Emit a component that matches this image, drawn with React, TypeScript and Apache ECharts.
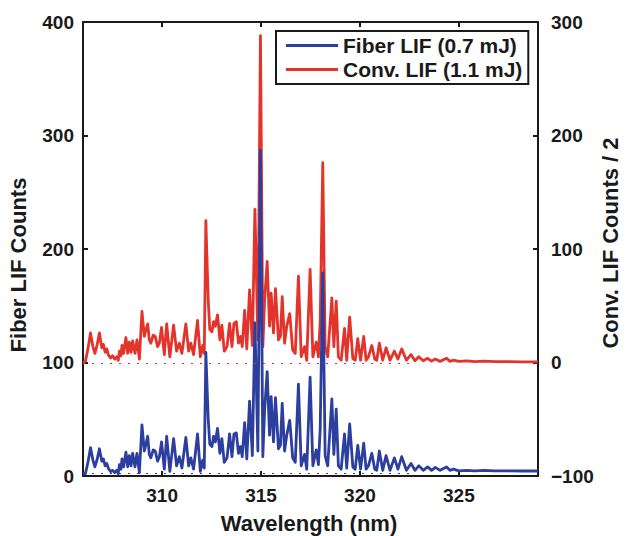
import React, { useEffect, useRef } from "react";
import * as echarts from "echarts";

const wavelength = [
  306.0, 306.12, 306.25, 306.38, 306.5, 306.6, 306.72, 306.83, 306.95, 307.03,
  307.12, 307.2, 307.3, 307.4, 307.5, 307.6, 307.7, 307.78, 307.84, 307.92,
  307.97, 308.05, 308.17, 308.26, 308.34, 308.43, 308.51, 308.63, 308.73, 308.85,
  308.98, 309.1, 309.18, 309.27, 309.35, 309.43, 309.55, 309.65, 309.77, 309.86,
  309.97, 310.11, 310.23, 310.39, 310.58, 310.73, 310.87, 311.0, 311.2, 311.34,
  311.45, 311.59, 311.79, 311.93, 312.05, 312.13, 312.21, 312.33, 312.41, 312.52,
  312.6, 312.69, 312.8, 312.92, 313.02, 313.14, 313.28, 313.41, 313.53, 313.63,
  313.75, 313.86, 313.96, 314.05, 314.17, 314.28, 314.42, 314.56, 314.69, 314.84,
  314.97, 315.09, 315.18, 315.31, 315.43, 315.51, 315.63, 315.73, 315.88, 315.98,
  316.07, 316.19, 316.3, 316.45, 316.6, 316.73, 316.89, 317.03, 317.2, 317.31,
  317.48, 317.62, 317.79, 317.9, 317.99, 318.12, 318.24, 318.37, 318.58, 318.68,
  318.8, 318.91, 319.05, 319.22, 319.33, 319.48, 319.64, 319.76, 319.89, 320.03,
  320.19, 320.31, 320.43, 320.6, 320.75, 320.85, 320.98, 321.15, 321.32, 321.52,
  321.74, 321.92, 322.11, 322.35, 322.58, 322.78, 322.97, 323.2, 323.42, 323.62,
  323.81, 324.05, 324.38, 324.55, 324.72, 325.0, 325.4, 325.8, 326.3, 326.8,
  327.5, 328.2, 329.0,
];

// Fiber LIF counts (left axis)
const fiberCounts = [
  2, 2, 12, 25, 14, 8, 15, 24, 13, 15,
  9, 11, 6, 4, 5, 3, 5, 2, 10, 6,
  15, 8, 21, 8, 18, 9, 20, 8, 20, 3,
  45, 22, 28, 35, 19, 16, 23, 22, 13, 17,
  30, 6, 35, 4, 33, 9, 17, 7, 34, 9,
  16, 6, 37, 4, 14, 7, 109, 50, 28, 26,
  35, 30, 42, 20, 33, 12, 16, 37, 17, 37,
  38, 20, 26, 17, 47, 15, 66, 18, 135, 22,
  287, 17, 58, 92, 36, 70, 30, 69, 24, 27,
  64, 22, 36, 49, 16, 12, 81, 9, 19, 6,
  87, 9, 23, 10, 41, 179, 18, 9, 68, 19,
  59, 9, 6, 37, 7, 46, 8, 6, 27, 6,
  29, 6, 9, 20, 6, 5, 22, 5, 18, 5,
  16, 6, 17, 5, 11, 5, 9, 5, 8, 5,
  7.6, 5, 8, 5, 6, 4.5, 5, 4.5, 5, 4.5,
  4.5, 4.4, 4.4,
];

// Conventional LIF counts / 2 (right axis)
const convCounts = [
  0, 1, 12, 26, 14, 8, 16, 26, 13, 16,
  9, 12, 6, 4, 6, 3, 5, 2, 10, 6,
  15, 8, 22, 8, 18, 9, 19, 8, 20, 3,
  45, 23, 29, 34, 20, 17, 24, 23, 14, 17,
  31, 7, 34, 5, 33, 10, 17, 8, 34, 10,
  17, 7, 37, 5, 15, 8, 125, 55, 29, 27,
  36, 32, 42, 20, 33, 10, 14, 34.5, 14, 34.5,
  36, 17, 23, 14, 46, 12, 64, 15, 135, 20,
  288, 14, 55, 89, 32, 61, 26, 65, 20, 23,
  58, 17, 32, 43, 11, 8, 76, 5, 14, 2,
  82, 5, 18, 5, 36, 176, 14, 5, 57, 14,
  54, 5, 2, 30, 2, 40, 3.5, 2, 21, 2,
  23, 2, 5, 15, 3, 2, 17, 2, 13, 2,
  10, 3, 12, 2, 7, 1.5, 5, 1.5, 3.7, 1.2,
  3, 1, 3.7, 1, 2, 1, 1.5, 0.8, 1.2, 0.8,
  0.8, 0.6, 0.6,
];

const xTicks = [310, 315, 320, 325];
const fiberName = "Fiber LIF (0.7 mJ)";
const convName = "Conv. LIF (1.1 mJ)";

const FONT = '"Liberation Sans", Arial, Helvetica, sans-serif';
const INK = "#1a1a1a";
const BLUE = "#2c3f9e";
const RED = "#e2342a";

export default function App() {
  const ref = useRef<HTMLDivElement>(null);

  useEffect(() => {
    if (!ref.current) return;
    const chart = echarts.init(ref.current, undefined, { renderer: "svg" });

    const fiberData = wavelength.map((w, i) => [w, fiberCounts[i]]);
    const convData = wavelength.map((w, i) => [w, convCounts[i]]);

    const axisLine = { show: true, onZero: false, lineStyle: { color: INK, width: 2 } };
    const axisTick = { show: true, inside: true, length: 5, lineStyle: { color: INK, width: 2 } };
    const labelStyle = { fontSize: 19, fontWeight: "bold" as const, color: INK, fontFamily: FONT };

    chart.setOption({
      animation: false,
      backgroundColor: "#ffffff",
      grid: { left: 83, right: 87, top: 22, bottom: 60 },
      xAxis: [
        {
          type: "value",
          min: 306,
          max: 329,
          position: "bottom",
          axisLine,
          axisTick: { ...axisTick, customValues: xTicks },
          axisLabel: { ...labelStyle, margin: 10, customValues: xTicks },
          splitLine: { show: false },
        },
        {
          type: "value",
          min: 306,
          max: 329,
          position: "top",
          axisLine,
          axisTick: { ...axisTick, customValues: xTicks },
          axisLabel: { show: false },
          splitLine: { show: false },
        },
      ],
      yAxis: [
        {
          type: "value",
          min: 0,
          max: 400,
          interval: 100,
          position: "left",
          axisLine,
          axisTick,
          axisLabel: { ...labelStyle, margin: 9 },
          splitLine: { show: false },
        },
        {
          type: "value",
          min: -100,
          max: 300,
          interval: 100,
          position: "right",
          axisLine,
          axisTick,
          axisLabel: {
            ...labelStyle,
            margin: 13,
            formatter: (v: number) => (v < 0 ? "\u2212" + Math.abs(v) : String(v)),
          },
          splitLine: { show: false },
        },
      ],
      legend: {
        orient: "vertical",
        left: 276,
        top: 31,
        backgroundColor: "#ffffff",
        borderColor: INK,
        borderWidth: 2,
        borderRadius: 0,
        padding: [4, 6, 4, 10],
        icon: "rect",
        itemWidth: 52,
        itemHeight: 3,
        itemGap: 3,
        textStyle: { fontSize: 21, fontWeight: "bold", color: INK, fontFamily: FONT },
        data: [
          { name: fiberName, itemStyle: { color: BLUE } },
          { name: convName, itemStyle: { color: RED } },
        ],
      },
      series: [
        {
          name: fiberName,
          type: "line",
          xAxisIndex: 0,
          yAxisIndex: 0,
          data: fiberData,
          symbol: "none",
          z: 3,
          lineStyle: { color: BLUE, width: 2.8, join: "round" },
          itemStyle: { color: BLUE },
          markLine: {
            silent: true,
            symbol: ["none", "none"],
            label: { show: false },
            lineStyle: { color: BLUE, width: 1.2, type: [2, 7] },
            data: [[{ coord: [306, 2] }, { coord: [322.5, 2] }]],
          },
        },
        {
          name: convName,
          type: "line",
          xAxisIndex: 0,
          yAxisIndex: 1,
          data: convData,
          symbol: "none",
          z: 2,
          lineStyle: { color: RED, width: 2.8, join: "round" },
          itemStyle: { color: RED },
          markLine: {
            silent: true,
            symbol: ["none", "none"],
            label: { show: false },
            lineStyle: { color: RED, width: 1.2, type: [2, 7] },
            data: [[{ coord: [306, -1] }, { coord: [322.5, -1] }]],
          },
        },
      ],
      graphic: [
        {
          type: "text",
          x: 18,
          y: 265,
          rotation: Math.PI / 2,
          style: {
            text: "Fiber LIF Counts",
            font: `bold 22px ${FONT}`,
            fill: INK,
            align: "center",
            verticalAlign: "middle",
          },
        },
        {
          type: "text",
          x: 610,
          y: 243,
          rotation: Math.PI / 2,
          style: {
            text: "Conv. LIF Counts / 2",
            font: `bold 22px ${FONT}`,
            fill: INK,
            align: "center",
            verticalAlign: "middle",
          },
        },
        {
          type: "text",
          x: 309,
          y: 523,
          style: {
            text: "Wavelength (nm)",
            font: `bold 22px ${FONT}`,
            fill: INK,
            align: "center",
            verticalAlign: "middle",
          },
        },
      ],
    });

    return () => chart.dispose();
  }, []);

  return (
    <div
      ref={ref}
      style={{ position: "absolute", left: 0, top: 0, width: 625, height: 536 }}
    />
  );
}
